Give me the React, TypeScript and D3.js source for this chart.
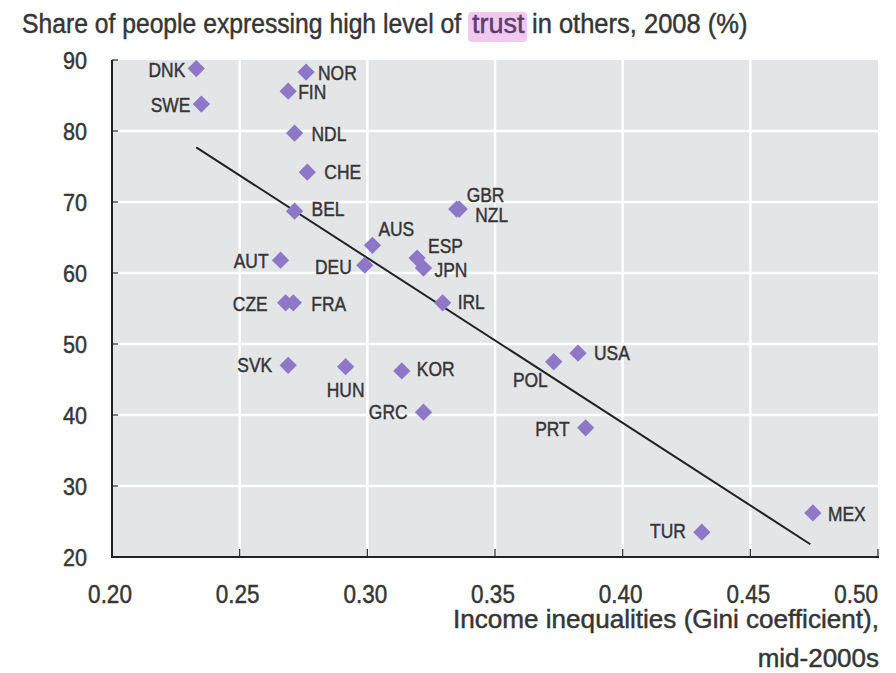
import React from "react";
import * as d3 from "d3";

const countries = ["DNK","SWE","NOR","FIN","NDL","CHE","BEL","AUS","DEU","AUT","CZE","FRA","ESP","JPN","GBR","NZL","IRL","SVK","HUN","KOR","GRC","POL","USA","PRT","TUR","MEX"];
const gini = [0.233,0.235,0.276,0.269,0.2715,0.2765,0.2715,0.302,0.299,0.266,0.268,0.271,0.3195,0.322,0.335,0.336,0.3295,0.269,0.2915,0.3135,0.322,0.373,0.3825,0.3855,0.431,0.4745];
const trust = [88.8,83.8,88.3,85.6,79.7,74.2,68.7,63.9,61.1,61.8,55.8,55.8,62.1,60.7,69.0,69.0,55.8,47.0,46.8,46.2,40.4,47.5,48.7,38.2,23.5,26.2];
const trendGini = [0.233, 0.4735];
const trendTrust = [77.7, 21.8];
const xTicks = [0.2,0.25,0.3,0.35,0.4,0.45,0.5];
const yTicks = [20,30,40,50,60,70,80,90];

// label placement: [dx, dy, anchor]
const labelPos: Record<string, [number, number, string]> = {
  DNK: [-11, 1, "end"], SWE: [-11, 1, "end"], NOR: [12, 1, "start"], FIN: [10, 1, "start"],
  NDL: [17, 1, "start"], CHE: [17, 0, "start"], BEL: [17, -2, "start"], AUS: [6, -16, "start"],
  DEU: [-13, 2, "end"], AUT: [-12, 1, "end"], CZE: [-18, 1, "end"], FRA: [18, 1, "start"],
  ESP: [11, -12, "start"], JPN: [11, 2, "start"], GBR: [10, -14, "start"], NZL: [16, 6, "start"],
  IRL: [15, -1, "start"], SVK: [-16, 0, "end"], HUN: [0, 23, "middle"], KOR: [15, -2, "start"],
  GRC: [-16, 0, "end"], POL: [-6, 18, "end"], USA: [16, 0, "start"], PRT: [-16, 1, "end"],
  TUR: [-16, -1, "end"], MEX: [15, 1, "start"],
};

const W = 896, H = 673;
const left = 112, right = 878, top = 60, bottom = 557;
const FONT = "'Liberation Sans', Arial, sans-serif";
const INK = "#353535";

function T(props: { x: number; y: number; anchor?: string; size: number; sx?: number; fill?: string; children: React.ReactNode }) {
  const { x, y, anchor = "start", size, sx = 1, fill = INK, children } = props;
  return (
    <text transform={`translate(${x},${y}) scale(${sx},1)`} textAnchor={anchor as any} fontSize={size} fill={fill} stroke={fill} strokeWidth={0.45}>
      {children}
    </text>
  );
}

export default function App() {
  React.useEffect(() => { document.body.style.margin = "0"; }, []);
  const x = d3.scaleLinear().domain([0.2, 0.5]).range([left, right]);
  const y = d3.scaleLinear().domain([20, 90]).range([bottom, top]);
  const diamond = d3.symbol().type(d3.symbolDiamond2).size(190)();
  const line = d3.line<number>().x((_, i) => x(trendGini[i])).y((_, i) => y(trendTrust[i]));
  const grey = "#e4e5e7";
  return (
    <svg width={W} height={H} style={{ display: "block", background: "#fff" }} fontFamily={FONT}>
      <rect x={left} y={top} width={right - left} height={bottom - top} fill={grey} />
      {xTicks.slice(1, -1).map((t) => (
        <line key={"gx" + t} x1={x(t)} x2={x(t)} y1={top} y2={bottom} stroke="#fff" strokeWidth={2.5} />
      ))}
      {yTicks.slice(1, -1).map((t) => (
        <line key={"gy" + t} x1={left} x2={right} y1={y(t)} y2={y(t)} stroke="#fff" strokeWidth={2.5} />
      ))}
      <line x1={left} x2={left} y1={top} y2={bottom + 1} stroke="#222" strokeWidth={2} />
      <line x1={left - 1} x2={right + 1} y1={bottom} y2={bottom} stroke="#222" strokeWidth={2} />
      {yTicks.map((t) => (
        <line key={"ty" + t} x1={left} x2={left + 6} y1={y(t)} y2={y(t)} stroke="#222" strokeWidth={1.2} />
      ))}
      {xTicks.map((t) => (
        <line key={"tx" + t} x1={x(t)} x2={x(t)} y1={bottom} y2={bottom - 8} stroke="#222" strokeWidth={1.2} />
      ))}
      {yTicks.map((t) => (
        <T key={"ly" + t} x={left - 25} y={y(t) + 8.5} anchor="end" size={24} sx={0.9}>{t}</T>
      ))}
      {xTicks.map((t, i) => (
        <T key={"lx" + t} x={i === xTicks.length - 1 ? right : x(t) - 2} y={bottom + 46} anchor={i === xTicks.length - 1 ? "end" : "middle"} size={25} sx={0.9}>{d3.format(".2f")(t)}</T>
      ))}
      <path d={line([0, 1]) || ""} fill="none" stroke="#222" strokeWidth={2} />
      {countries.map((c, i) => (
        <path key={"p" + c} d={diamond || ""} transform={`translate(${x(gini[i])},${y(trust[i])})`} fill="#8d78c8" />
      ))}
      {countries.map((c, i) => {
        const [dx, dy, anchor] = labelPos[c];
        return (
          <T key={"l" + c} x={x(gini[i]) + dx} y={y(trust[i]) + dy + 7} anchor={anchor} size={20} sx={0.87}>{c}</T>
        );
      })}
      <rect x={468} y={12} width={59} height={30} rx={4} fill="#efc9ef" />
      <T x={22} y={33} size={27} sx={0.915}>Share of people expressing high level of</T>
      <T x={472} y={33} size={27} sx={1} fill="#5e3a6e">trust</T>
      <T x={532} y={33} size={27} sx={0.945}>in others, 2008 (%)</T>
      <T x={right + 1} y={628} anchor="end" size={25} sx={1.045}>Income inequalities (Gini coefficient),</T>
      <T x={right + 1} y={667} anchor="end" size={25} sx={1.04}>mid-2000s</T>
    </svg>
  );
}
